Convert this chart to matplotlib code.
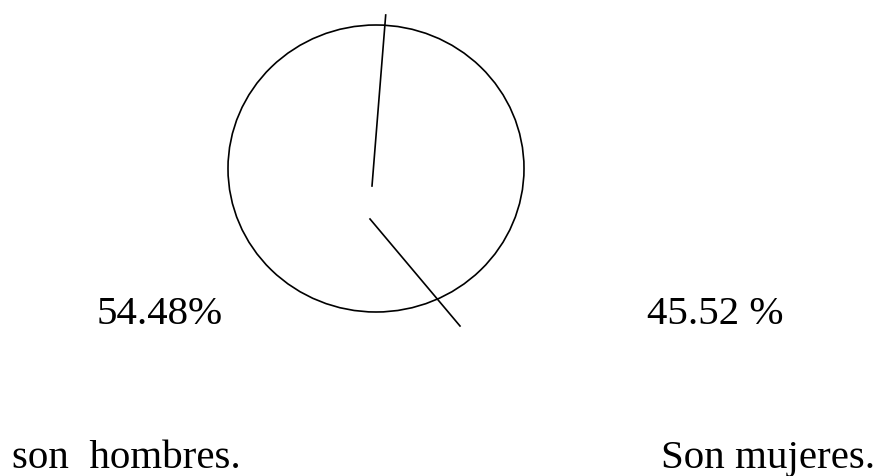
import matplotlib
matplotlib.use("Agg")
import matplotlib.pyplot as plt
from matplotlib.patches import Ellipse

# Data
percentages = [54.48, 45.52]
pct_labels = ["54.48%", "45.52 %"]
categories = ["son  hombres.", "Son mujeres."]

fig = plt.figure(figsize=(8.79, 4.76), dpi=100)
ax = fig.add_axes([0, 0, 1, 1])
ax.set_xlim(0, 879)
ax.set_ylim(476, 0)
ax.axis("off")

# Hand-drawn style circle with two radius lines
ax.add_patch(Ellipse((376, 168.5), 296, 287, fill=False, edgecolor="black", linewidth=1.2))
ax.plot([385.7, 372], [15, 186], color="black", linewidth=1.2)
ax.plot([370, 460], [219, 326], color="black", linewidth=1.2)

font = dict(family=["Liberation Serif", "DejaVu Serif"], fontsize=29.5, color="black")

pct_x = [97, 647]
for x, lab in zip(pct_x, pct_labels):
    ax.text(x, 324, lab, ha="left", va="baseline", **font)

cat_x = [12, 875]
ax.text(cat_x[0], 468, categories[0], ha="left", va="baseline", **font)
ax.text(cat_x[1], 468, categories[1], ha="right", va="baseline", **font)

fig.savefig("out.png", dpi=100)
